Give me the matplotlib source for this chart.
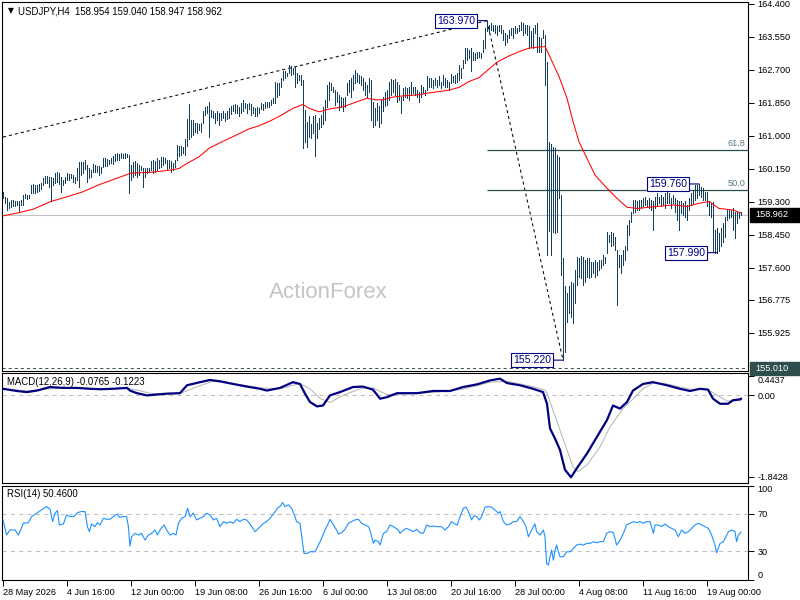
import matplotlib
matplotlib.use('Agg')
import matplotlib.pyplot as plt
from matplotlib.patches import Rectangle
from matplotlib.transforms import blended_transform_factory

plt.rcParams['font.family'] = ['Liberation Sans', 'DejaVu Sans']
plt.rcParams['lines.scale_dashes'] = False

# ---------------- data ----------------
symbol = "USDJPY,H4"
last_ohlc = [158.954, 159.040, 158.947, 158.962]

highs = [
159.56,159.43,159.39,159.30,159.35,159.35,159.33,159.31,159.33,159.35,
159.48,159.49,159.48,159.48,159.73,159.75,159.73,159.73,159.76,159.78,
159.92,159.96,159.96,159.95,159.95,159.91,160.04,160.06,160.04,159.95,
159.86,159.95,160.04,160.02,160.01,159.99,159.95,160.16,160.32,160.33,
160.32,160.38,160.25,160.16,160.12,160.27,160.25,160.22,160.22,160.21,
160.42,160.42,160.40,160.38,160.42,160.48,160.52,160.55,160.53,160.55,
160.53,160.55,160.53,160.51,160.25,160.33,160.36,160.31,160.25,160.22,
160.16,160.16,160.16,160.16,160.34,160.38,160.34,160.42,160.38,160.46,
160.45,160.42,160.38,160.38,160.34,160.29,160.38,160.77,160.74,160.74,
160.72,160.91,161.43,161.81,161.41,161.41,161.33,161.34,161.31,161.34,
161.65,161.75,161.78,161.88,161.67,161.63,161.60,161.63,161.60,161.60,
161.63,161.60,161.63,161.71,161.77,161.80,161.81,161.80,161.75,161.84,
161.93,161.84,161.81,161.84,161.82,161.75,161.71,161.74,161.71,161.84,
161.81,161.86,161.88,161.86,161.93,161.97,162.40,162.36,162.36,162.48,
162.66,162.68,162.63,162.83,162.79,162.74,162.80,162.61,162.57,162.57,
162.45,161.67,161.35,161.50,161.30,161.50,161.54,161.32,161.45,161.55,
161.75,161.93,162.31,162.40,162.36,162.27,162.18,162.14,162.05,162.01,
161.97,162.01,162.36,162.44,162.48,162.57,162.70,162.61,162.57,162.53,
162.48,162.40,162.31,162.48,162.44,161.88,161.71,161.84,161.76,161.93,
162.01,162.14,162.18,162.40,162.46,162.44,162.46,162.40,162.31,162.01,
162.23,162.27,162.23,162.27,162.40,162.27,162.27,162.18,162.14,162.31,
162.27,162.18,162.53,162.48,162.48,162.44,162.48,162.44,162.53,162.40,
162.57,162.48,162.44,162.40,162.59,162.53,162.57,162.61,162.83,162.74,
162.96,163.26,163.26,163.21,163.26,163.17,163.13,163.17,163.17,163.13,
163.47,163.77,163.97,163.86,163.90,163.86,163.86,163.82,163.86,163.86,
163.73,163.64,163.60,163.73,163.77,163.77,163.82,163.77,163.86,163.94,
163.90,163.86,163.86,163.82,163.69,163.77,163.86,163.90,163.56,163.52,
163.73,163.60,162.91,160.85,160.80,160.72,160.68,160.51,160.45,159.48,
157.85,157.12,156.94,157.12,157.24,157.20,157.55,157.89,157.85,157.90,
157.89,157.80,157.85,157.85,157.76,157.76,157.80,157.76,157.80,157.80,
157.93,157.89,158.53,158.45,158.53,158.49,158.40,158.06,157.93,157.93,
158.06,158.15,158.70,158.83,159.05,159.35,159.35,159.31,159.35,159.35,
159.39,159.43,159.35,159.39,159.35,159.31,159.43,159.52,159.43,159.48,
159.43,159.52,159.56,159.52,159.39,159.48,159.39,159.35,159.31,159.31,
159.26,159.31,159.22,159.39,159.52,159.61,159.74,159.74,159.76,159.69,
159.65,159.56,159.56,159.31,159.26,159.30,158.58,158.62,158.49,158.62,
158.75,158.92,159.09,159.09,159.09,159.13,159.05,159.05,159.01,159.04]

lows = [
159.41,159.28,159.09,159.13,159.16,159.18,159.19,159.21,159.07,159.22,
159.22,159.39,159.37,159.39,159.52,159.52,159.54,159.56,159.59,159.62,
159.73,159.79,159.78,159.69,159.33,159.73,159.79,159.82,159.76,159.56,
159.73,159.78,159.86,159.86,159.91,159.82,159.78,159.85,159.69,159.99,
160.04,160.14,159.82,159.91,159.95,160.08,160.06,160.08,159.99,160.04,
160.21,160.22,160.22,160.28,160.29,160.27,160.35,160.38,160.38,160.42,
160.42,160.44,160.46,159.52,159.86,159.95,159.99,159.95,159.99,160.12,
159.69,159.95,160.04,160.08,160.12,160.04,160.08,160.12,160.16,160.21,
160.25,160.29,160.12,160.16,160.08,160.12,160.21,160.38,160.47,160.51,
160.55,160.51,160.74,160.91,160.98,161.02,161.11,161.08,161.15,161.11,
161.33,161.54,161.58,160.98,161.48,161.45,161.33,161.41,161.28,161.41,
161.45,161.39,161.43,161.45,161.57,161.63,161.58,161.60,161.51,161.60,
161.63,161.71,161.58,161.69,161.54,161.58,161.51,161.50,161.58,161.69,
161.67,161.71,161.74,161.75,161.80,161.84,161.84,162.01,162.06,162.27,
162.44,162.48,162.53,162.61,162.57,162.60,162.25,162.37,162.44,162.31,
160.70,160.85,160.72,160.98,160.94,161.07,160.47,160.94,161.18,161.22,
161.30,161.40,161.75,161.93,162.18,162.14,161.80,161.88,161.67,161.75,
161.63,161.75,162.06,162.14,162.01,162.18,162.36,162.40,162.36,162.31,
162.18,162.06,162.01,162.14,161.41,161.24,161.28,161.41,161.24,161.33,
161.63,161.76,161.80,161.93,162.06,162.14,162.06,161.88,161.93,161.58,
161.93,162.01,161.97,161.93,162.06,162.10,162.06,162.01,161.88,162.01,
162.10,162.06,162.18,162.27,162.27,162.23,162.31,162.27,162.31,162.23,
162.31,162.27,162.27,162.18,162.36,162.40,162.36,162.40,162.44,162.48,
162.74,162.87,162.96,163.00,162.67,162.96,162.96,163.00,163.04,163.00,
163.17,163.26,163.69,163.64,163.73,163.69,163.64,163.60,163.69,163.64,
163.47,163.34,163.43,163.52,163.60,163.52,163.64,163.64,163.69,163.73,
163.60,163.64,163.60,163.26,163.30,163.26,163.64,163.17,163.17,163.17,
163.52,162.31,157.93,158.55,157.93,158.53,158.49,158.53,159.40,157.42,
155.22,155.44,156.21,156.43,156.34,156.17,156.69,157.16,157.37,157.33,
157.16,157.24,157.37,157.33,157.37,157.46,157.37,157.41,157.54,157.59,
157.67,157.72,157.97,158.27,158.15,158.19,158.06,156.64,157.63,157.46,
157.67,157.80,158.06,158.45,158.79,159.01,159.05,159.09,159.09,159.13,
159.18,159.22,159.18,159.13,159.09,158.58,159.13,159.18,159.26,159.18,
159.22,159.13,159.26,159.26,159.13,159.26,159.05,158.83,158.58,159.01,
158.96,158.92,158.83,159.09,159.22,159.26,159.35,159.39,159.48,159.43,
159.35,159.35,159.18,158.96,158.92,158.02,157.99,157.99,158.02,158.15,
158.27,158.40,158.83,158.88,158.92,158.58,158.36,158.75,158.88,158.95]

# moving average
ma_bar = [0, 8, 15, 24, 32, 40, 48, 57, 64, 74, 84, 88, 92, 98, 103, 108, 115, 123, 128, 133,
          138, 145, 150, 153, 158, 163, 170, 177, 182, 186, 190, 195, 200, 208, 212, 218, 223,
          228, 233, 238, 243, 247, 253, 258, 263, 268, 271, 273, 278, 282, 285, 288, 292, 296,
          302, 307, 312, 317, 327, 335, 342, 347, 353, 358, 365, 369]
ma_val = [158.94, 159.02, 159.11, 159.31, 159.43, 159.56, 159.74, 159.91, 160.04, 160.06, 160.12,
          160.16, 160.29, 160.46, 160.68, 160.81, 160.98, 161.18, 161.26, 161.37, 161.50, 161.71,
          161.81, 161.71, 161.62, 161.69, 161.75, 161.88, 161.97, 161.93, 161.93, 162.00, 162.03,
          162.06, 162.10, 162.14, 162.18, 162.25, 162.40, 162.50, 162.72, 162.90, 163.06, 163.17,
          163.26, 163.29, 163.30, 163.09, 162.53, 161.97, 161.37, 160.85, 160.42, 159.99, 159.65,
          159.39, 159.16, 159.13, 159.18, 159.22, 159.18, 159.25, 159.31, 159.13, 159.09, 159.01]

# swing points / fibonacci
swing_high = (242, 163.97)
swing_low = (280, 155.22)
trend_start = (0, 160.97)
recent_high = (348, 159.76)
recent_low = (357, 157.99)
fib_levels = [61.8, 50.0]
support_line = 155.01

price_ticks = [164.4, 163.55, 162.7, 161.85, 161.0, 160.15, 159.3, 158.45, 157.6, 156.775, 155.925]

# MACD main and signal
macd_bar = [0, 7, 12, 17, 23.5, 30, 37, 43.5, 48.5, 55, 62, 63.5, 67, 72, 77, 82, 88.5, 92, 98.5,
            103.5, 108.5, 115, 122, 128.5, 132, 138.5, 145, 148.5, 151, 153.5, 157, 160, 163.5,
            168.5, 175, 180, 185, 188.5, 192, 197, 207, 215, 223.5, 230, 237, 243.5, 248.5, 252,
            258.5, 265, 270, 272, 273.5, 276, 278.5, 281, 284, 287, 292, 297, 302, 305, 308.5,
            312, 315, 320, 325, 332, 338.5, 343.5, 348.5, 352.5, 355, 358.5, 362.5, 365, 368.5, 369]
macd_val = [0.15, 0.10, 0.075, 0.11, 0.19, 0.17, 0.17, 0.15, 0.14, 0.15, 0.17, 0.11, 0.05, 0.0,
            0.02, 0.04, 0.05, 0.23, 0.30, 0.35, 0.32, 0.26, 0.20, 0.15, 0.11, 0.17, 0.30, 0.26,
            0.04, -0.15, -0.25, -0.23, 0.0, 0.075, 0.19, 0.20, 0.13, -0.075, -0.04, 0.05, 0.05,
            0.10, 0.10, 0.19, 0.25, 0.34, 0.38, 0.28, 0.23, 0.15, 0.075, -0.19, -0.75, -0.98,
            -1.24, -1.69, -1.86, -1.65, -1.32, -0.94, -0.56, -0.23, -0.30, -0.15, 0.11, 0.26,
            0.30, 0.23, 0.15, 0.10, 0.15, 0.13, -0.075, -0.19, -0.19, -0.11, -0.09, -0.0765]
sig_bar = [0, 12, 23.5, 37, 48.5, 62, 67, 73.5, 82, 90, 98.5, 105, 115, 128.5, 138.5, 148.5,
           153.5, 158.5, 163.5, 170, 178.5, 185, 192, 198.5, 215, 230, 243.5, 252, 265, 271, 272,
           275, 278.5, 282, 285, 287.5, 292, 298.5, 303.5, 310, 315, 320, 325, 332, 338.5, 345,
           352, 357, 362, 368.5, 369]
sig_val = [0.15, 0.10, 0.15, 0.17, 0.15, 0.16, 0.12, 0.05, 0.02, 0.07, 0.22, 0.32, 0.27, 0.17,
           0.15, 0.27, 0.15, -0.07, -0.16, 0.0, 0.15, 0.17, 0.02, 0.03, 0.07, 0.14, 0.30, 0.32,
           0.20, 0.12, 0.05, -0.34, -0.79, -1.24, -1.62, -1.73, -1.58, -1.17, -0.72, -0.30,
           -0.08, 0.15, 0.28, 0.26, 0.19, 0.13, 0.15, 0.0, -0.13, -0.12, -0.1223]
macd_label_vals = [0.4437, 0.0, -1.8428]

# RSI(14)
rsi_bar = [0, 1.8, 3.5, 6, 7.7, 10.2, 12.7, 14.3, 16.8, 19.3, 21.8, 23.5, 24.8, 26, 27.2, 28.2,
           30.2, 31.8, 33.5, 35.5, 37.2, 39.3, 41, 42.2, 43.2, 44.3, 46, 47.2, 48.5, 50.2, 51.8,
           53.5, 55.2, 57.2, 58.2, 60.2, 61.8, 62.7, 63.5, 64.3, 66, 67.7, 69.3, 71, 72.7, 74.3,
           76, 77.2, 78.5, 80.5, 81.8, 83.5, 85.2, 86.5, 87.7, 89.3, 91, 92.3, 93.5, 95.2, 96.8,
           98.5, 100.2, 101.8, 103.5, 105.2, 106.8, 108.5, 110.2, 111.8, 113.5, 115.2, 116.8,
           118.5, 120.2, 121.8, 123.5, 126, 127.7, 130.2, 131.8, 133.5, 135.5, 137.2, 138.8,
           139.8, 141, 142.7, 144.3, 146, 146.8, 148.5, 149.8, 150.5, 151.8, 153.5, 156, 157.7,
           159.3, 161, 162.7, 163.5, 165.2, 166.8, 167.7, 169.3, 171, 172.7, 174.3, 176, 177.7,
           179.3, 181, 182.7, 183.5, 185.2, 186, 187.7, 188.5, 190.2, 191.8, 193.5, 195.2, 197.7,
           198.5, 200.2, 201.8, 203.5, 205.2, 206.8, 208.5, 210.2, 211.8, 213.5, 215.2, 216.8,
           219.3, 221, 222.7, 224.3, 226, 227.2, 228.2, 230.2, 231.5, 232.7, 234.3, 235.5, 236.8,
           238.2, 239.3, 241, 242.7, 244.3, 246, 247.7, 248.5, 250.2, 251.8, 253.5, 255.2, 256.8,
           258.5, 260.2, 261.5, 262.7, 264.3, 266, 266.8, 268.5, 270.2, 271, 271.8, 272.7, 273.5,
           274.3, 275.2, 276, 276.8, 277.7, 278.5, 280.2, 281.8, 283.5, 285.2, 286.8, 288.5,
           290.2, 291.8, 293.5, 295.2, 296.8, 298.5, 300.2, 301.8, 303.5, 305.2, 306.8, 308.5,
           310.2, 311.8, 313.5, 315.2, 316.8, 318.5, 320.2, 321.8, 323.5, 325.2, 326, 327.7,
           329.3, 331, 332.7, 334.3, 336, 337.7, 339.3, 341, 342.7, 344.3, 346, 347.7, 349.3,
           351, 352.7, 354.3, 356, 356.8, 358.5, 360.2, 361, 362.7, 364.3, 366, 366.8, 367.7, 369]
rsi_val = [63.4, 47.3, 52.7, 52.7, 47.3, 59.8, 60.5, 66.9, 70.5, 74.0, 77.6, 74.7, 61.6, 70.5,
           73.3, 58.0, 59.1, 68.7, 66.9, 66.9, 71.2, 72.3, 72.3, 56.2, 50.9, 59.1, 56.2, 60.5,
           58.0, 65.1, 64.1, 64.1, 66.9, 69.8, 66.2, 66.9, 66.9, 56.2, 35.5, 45.5, 49.1, 47.3,
           49.1, 41.9, 47.3, 49.1, 52.7, 47.3, 52.7, 58.0, 52.7, 47.3, 49.1, 47.3, 59.8, 65.1,
           66.9, 75.8, 66.9, 70.5, 63.4, 65.1, 66.9, 70.5, 68.7, 63.4, 65.1, 56.2, 61.6, 59.8,
           61.6, 59.8, 64.1, 61.6, 64.1, 63.4, 59.1, 50.9, 54.4, 59.8, 61.6, 65.1, 70.5, 75.8,
           78.3, 81.9, 77.6, 79.4, 75.8, 66.9, 61.6, 59.8, 38.4, 27.7, 27.7, 29.5, 29.5, 36.6,
           43.7, 52.7, 59.8, 64.1, 58.0, 52.7, 48.4, 49.8, 53.4, 59.8, 61.6, 63.4, 64.1, 59.8,
           58.0, 56.2, 52.7, 38.4, 41.9, 40.2, 36.6, 49.1, 50.9, 58.0, 56.2, 52.7,
           49.1, 52.7, 54.4, 52.7, 50.9, 53.4, 49.8, 49.1, 58.0, 56.2, 56.9, 56.2, 56.2, 52.7,
           56.2, 61.6, 59.1, 58.0, 65.1, 75.8, 76.9, 72.3, 63.4, 68.0, 66.9, 63.4, 66.9, 76.9,
           77.6, 76.9, 74.0, 70.5, 72.3, 61.6, 58.0, 59.1, 61.6, 61.6, 66.9, 61.6, 56.2, 45.5,
           52.7, 59.1, 50.9, 47.3, 52.7, 45.5, 17.1, 15.3, 24.2, 31.3, 20.6, 31.3, 36.6, 29.5,
           24.2, 24.2, 29.5, 29.5, 33.1, 36.6, 37.7, 36.6, 38.4, 38.4, 40.2, 39.1, 40.2, 40.2,
           49.1, 50.9, 49.8, 36.6, 41.9, 49.1, 58.0, 59.8, 61.6, 60.5, 61.6, 59.8, 61.6, 61.6,
           49.1, 58.0, 58.0, 56.2, 59.1, 56.2, 54.4, 52.7, 45.5, 52.7, 49.1, 50.9, 54.4, 58.0,
           59.8, 58.0, 56.2, 54.4, 47.3, 36.6, 28.4, 38.4, 40.2, 43.7, 50.9, 52.7, 50.9, 40.2,
           47.3, 50.46]
rsi_levels = [70, 30]
rsi_ticks = [100, 70, 30, 0]

date_bars = [0, 32, 64, 96, 128, 160, 192, 224, 256, 288, 320, 352]
date_labels = ['28 May 2026', '4 Jun 16:00', '12 Jun 00:00', '19 Jun 08:00', '26 Jun 16:00',
               '6 Jul 00:00', '13 Jul 08:00', '20 Jul 16:00', '28 Jul 00:00', '4 Aug 08:00',
               '11 Aug 16:00', '19 Aug 00:00']

# ---------------- style ----------------
BAR = '#143f5c'
NAVY = '#000080'
SLATE = '#2f4f4f'
GRID_GRAY = '#c0c0c0'
FS = 6.6
W, H = 800, 600
XMIN, XMAX = -0.5, 372.5


def rect(l, t, r, b):
    return [l / W, 1 - b / H, (r - l) / W, (b - t) / H]


fig = plt.figure(figsize=(8, 6), dpi=100)
fig.patch.set_facecolor('white')
ax = fig.add_axes(rect(2, 2, 748, 371))
axm = fig.add_axes(rect(2, 372.5, 748, 483))
axr = fig.add_axes(rect(2, 485.5, 748, 579.5))

for a in (ax, axm, axr):
    a.set_xlim(XMIN, XMAX)
    for s in a.spines.values():
        s.set_color('black')
        s.set_linewidth(0.8)
    a.yaxis.tick_right()
    a.tick_params(axis='y', length=4, width=0.7, pad=3, labelsize=FS, colors='black')
    a.tick_params(axis='x', bottom=False, labelbottom=False)

# ---- main price panel ----
ax.set_ylim(154.94, 164.45)
xs = list(range(len(highs)))
ax.vlines(xs, lows, highs, colors=BAR, linewidths=0.5, antialiaseds=False, zorder=3)
ax.plot(ma_bar, ma_val, color='red', lw=0.75, zorder=4)
ax.axhline(last_ohlc[3], color=GRID_GRAY, lw=0.8, zorder=1)
ax.axhline(support_line, color=SLATE, lw=0.7, ls=(0, (2.2, 2.2)), zorder=1)

dots = (0, (2.2, 2.2))
ax.plot([trend_start[0], swing_high[0]], [trend_start[1], swing_high[1]],
        color='black', lw=0.75, ls=dots, zorder=2)
ax.plot([swing_high[0], swing_low[0]], [swing_high[1], swing_low[1]],
        color='black', lw=0.75, ls=dots, zorder=2)

rng = swing_high[1] - swing_low[1]
for lvl in fib_levels:
    p = swing_low[1] + rng * lvl / 100.0
    ax.hlines(p, swing_high[0], XMAX, color=SLATE, lw=0.9, zorder=2)
    ax.text(371.3, p + 0.05, f"{lvl:.1f}", ha='right', va='bottom', fontsize=FS,
            color='#5a7888', zorder=5)

for (b, p) in (swing_high, swing_low, recent_high, recent_low):
    ax.annotate(f"{p:.3f}", xy=(b, p), xytext=(-31, 0), textcoords='offset pixels',
                ha='center', va='center', fontsize=7.6, color=NAVY, zorder=6,
                bbox=dict(boxstyle='square,pad=0.18', fc='white', ec=NAVY, lw=0.8),
                arrowprops=dict(arrowstyle='-', color=NAVY, lw=0.8, shrinkA=0, shrinkB=0))

ax.set_yticks(price_ticks)
ax.set_yticklabels([f"{v:.3f}" for v in price_ticks])

trans = blended_transform_factory(ax.transAxes, ax.transData)
for val, fc in ((last_ohlc[3], 'black'), (support_line, SLATE)):
    ax.add_patch(Rectangle((1.0025, val - 0.17), 0.08, 0.34, transform=trans,
                           facecolor=fc, edgecolor=fc, clip_on=False, zorder=10))
    ax.text(1.0095, val, f"{val:.3f}", transform=trans, ha='left', va='center',
            fontsize=FS, color='white', clip_on=False, zorder=11)

ax.text(0.438, 0.214, 'ActionForex', transform=ax.transAxes, ha='center', va='center',
        fontsize=16, color='#c4c4c4', zorder=0)

fig.text(11 / W, 1 - 11 / H, '▼', fontsize=5.5, ha='center', va='center',
         family='DejaVu Sans', color='black')
fig.text(18 / W, 1 - 11 / H, symbol + '  ' + ' '.join(f"{v:.3f}" for v in last_ohlc),
         fontsize=6.9, ha='left', va='center', color='black')

# ---- MACD panel ----
axm.set_ylim(-1.99, 0.52)
axm.axhline(0, color=GRID_GRAY, lw=0.75, ls=(0, (3, 3)), zorder=1)
axm.plot(sig_bar, sig_val, color='#b8b8b8', lw=0.75, zorder=2)
axm.plot(macd_bar, macd_val, color=NAVY, lw=1.6, zorder=3)
axm.set_yticks(macd_label_vals)
axm.set_yticklabels(['0.4437', '0.00', '-1.8428'])
axm.get_yticklabels()[0].set_va('top')
axm.text(5 / 746, 0.915, f"MACD(12,26,9) {macd_val[-1]:.4f} {sig_val[-1]:.4f}",
         transform=axm.transAxes, fontsize=6.9, ha='left', va='center')

# ---- RSI panel ----
axr.set_ylim(0, 100)
for lvl in rsi_levels:
    axr.axhline(lvl, color=GRID_GRAY, lw=0.75, ls=(0, (3, 3)), zorder=1)
axr.plot(rsi_bar, rsi_val, color='#1e90ff', lw=0.8, zorder=3)
axr.set_yticks(rsi_ticks)
axr.set_yticklabels([str(v) for v in rsi_ticks])
axr.get_yticklabels()[0].set_va('top')
axr.get_yticklabels()[3].set_va('bottom')
axr.text(5 / 746, 0.91, f"RSI(14) {rsi_val[-1]:.4f}", transform=axr.transAxes,
         fontsize=6.9, ha='left', va='center')

axr.tick_params(axis='x', bottom=True, labelbottom=True, length=4, width=0.7, pad=2,
                labelsize=FS)
axr.set_xticks(date_bars)
axr.set_xticklabels(date_labels, ha='left')

fig.savefig('out.png', dpi=100, facecolor='white')
